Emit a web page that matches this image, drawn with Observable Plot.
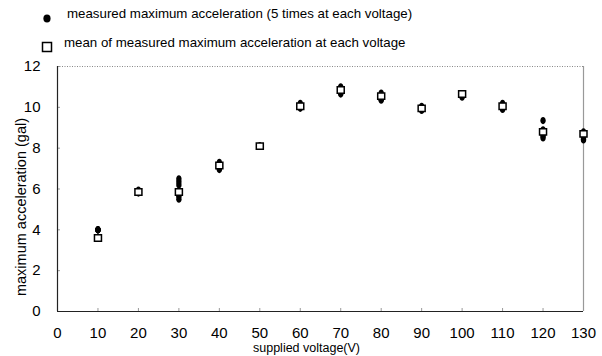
<!DOCTYPE html>
<html><head><meta charset="utf-8">
<script src="https://cdn.jsdelivr.net/npm/d3@7"></script>
<script src="https://cdn.jsdelivr.net/npm/@observablehq/plot@0.6"></script>
<style>
body{margin:0;background:#fff;font-family:"Liberation Sans",Arial,sans-serif;}
#wrap{position:relative;width:602px;height:356px;overflow:hidden;}
#legend{position:relative;height:52px;font-size:13.3px;color:#000;}
.li{position:absolute;white-space:nowrap;line-height:16px;}
.sym{position:absolute;}
</style></head><body>
<div id="wrap"><div id="legend"></div><div id="chart"></div></div>
<script>
// ---- data ----
const voltage = [10, 20, 30, 40, 50, 60, 70, 80, 90, 100, 110, 120, 130];
const trial1  = [4.0, 5.80, 6.50, 7.30, 8.1, 10.20, 11.00, 10.70, 10.05, 10.65, 10.20, 9.35, 8.80];
const trial2  = [4.0, 5.85, 6.35, 7.20, 8.1, 10.10, 10.95, 10.60, 10.00, 10.60, 10.10, 8.90, 8.70];
const trial3  = [4.0, 5.90, 6.20, 7.10, 8.1, 10.00, 10.80, 10.50,  9.95, 10.55, 10.00, 8.70, 8.55];
const trial4  = [4.0, 5.95, 5.65, 7.00, 8.1,  9.95, 10.70, 10.40,  9.90, 10.50,  9.95, 8.60, 8.45];
const trial5  = [4.0, 5.90, 5.50, 6.95, 8.1, 10.05, 10.65, 10.35,  9.85, 10.60,  9.90, 8.50, 8.40];
const meanAcc = [3.6, 5.85, 5.85, 7.15, 8.1, 10.05, 10.85, 10.55,  9.95, 10.65, 10.05, 8.80, 8.70];
const xTicks = [0, 10, 20, 30, 40, 50, 60, 70, 80, 90, 100, 110, 120, 130];
const yTicks = [0, 2, 4, 6, 8, 10, 12];
const legendLabels = [
  "measured maximum acceleration (5 times at each voltage)",
  "mean of measured maximum acceleration at each voltage"
];
const xLabel = "supplied voltage(V)";
const yLabel = "maximum acceleration (gal)";

// ---- tables ----
const trials = [trial1, trial2, trial3, trial4, trial5];
const measured = [];
trials.forEach(t => voltage.forEach((v, i) => measured.push({v, a: t[i]})));
const means = voltage.map((v, i) => ({v, a: meanAcc[i]}));

// symbols
const ellipse = {draw(ctx) {
  const rx = 2.7, ry = 3.6, k = 0.5523;
  ctx.moveTo(rx, 0);
  ctx.bezierCurveTo(rx, ry * k, rx * k, ry, 0, ry);
  ctx.bezierCurveTo(-rx * k, ry, -rx, ry * k, -rx, 0);
  ctx.bezierCurveTo(-rx, -ry * k, -rx * k, -ry, 0, -ry);
  ctx.bezierCurveTo(rx * k, -ry, rx, -ry * k, rx, 0);
  ctx.closePath();
}};
const square = {draw(ctx) { ctx.rect(-3.5, -3.2, 7, 6.4); }};

// ---- legend ----
const leg = document.getElementById("legend");
leg.innerHTML = `
<svg class="sym" style="left:42px;top:13px" width="10" height="11"><ellipse cx="5" cy="5.5" rx="3.6" ry="4" fill="#000"/></svg>
<div class="li" style="left:67px;top:6px">${legendLabels[0]}</div>
<svg class="sym" style="left:41px;top:41px" width="12" height="12"><rect x="1.5" y="1.5" width="9" height="9" fill="#fff" stroke="#000" stroke-width="1.5"/></svg>
<div class="li" style="left:64px;top:35px">${legendLabels[1]}</div>`;

// ---- chart ----
const chart = Plot.plot({
  width: 602,
  height: 304,
  marginTop: 14,
  marginRight: 19,
  marginBottom: 45,
  marginLeft: 57,
  style: {fontFamily: "'Liberation Sans', Arial, sans-serif", background: "transparent", color: "#000"},
  x: {domain: [xTicks[0], xTicks[xTicks.length - 1]]},
  y: {domain: [yTicks[0], yTicks[yTicks.length - 1]]},
  marks: [
    Plot.ruleY([yTicks[yTicks.length - 1]], {stroke: "#888", strokeDasharray: "1,1.5"}),
    Plot.ruleX([xTicks[xTicks.length - 1]], {stroke: "#999", strokeWidth: 1.2}),
    Plot.axisY(yTicks, {tickSize: -3, text: null, stroke: "#999", label: null}),
    Plot.axisX(xTicks, {tickSize: -3, text: null, stroke: "#999", label: null}),
    Plot.axisY(yTicks, {tickSize: 0, tickPadding: 17, fontSize: 15, label: null}),
    Plot.axisX(xTicks, {tickSize: 0, tickPadding: 16, fontSize: 15, label: null}),
    Plot.ruleX([xTicks[0]], {stroke: "#222", strokeWidth: 1.2}),
    Plot.ruleY([yTicks[0]], {stroke: "#222", strokeWidth: 1.2}),
    Plot.text([yLabel], {frameAnchor: "left", textAnchor: "middle", rotate: -90, dx: -36, dy: 18, fontSize: 14.5}),
    Plot.text([xLabel], {frameAnchor: "bottom", textAnchor: "middle", dx: -14, dy: 40, fontSize: 12.5}),
    Plot.dot(measured, {x: "v", y: "a", symbol: ellipse, fill: "#000", stroke: "none"}),
    Plot.dot(means, {x: "v", y: "a", symbol: square, fill: "#fff", stroke: "#000", strokeWidth: 1.5})
  ]
});
chart.style.position = "absolute";
chart.style.left = "0px";
chart.style.top = "52px";
document.getElementById("chart").appendChild(chart);
</script>
</body></html>
